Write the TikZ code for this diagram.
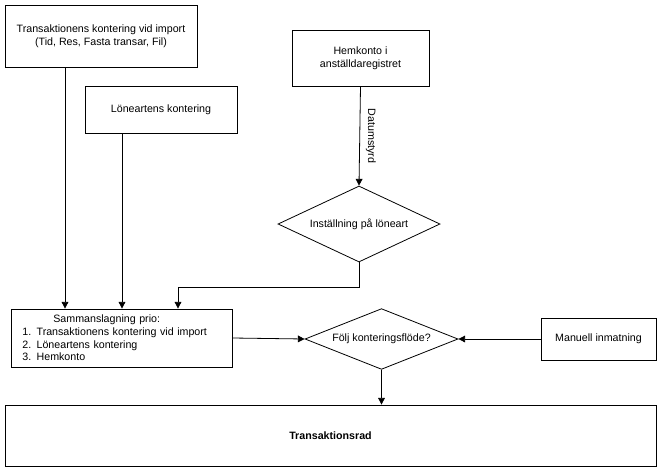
\documentclass[tikz,border=0pt]{standalone}
\usepackage{fontspec}
\setmainfont{Liberation Sans}
\usetikzlibrary{shapes.geometric,arrows.meta,positioning}
\tikzset{
    boxsty/.style={draw,rectangle,align=center,font=\fontsize{8}{9.5}\selectfont},
    dmsty/.style={draw,diamond,aspect=2.1,inner sep=1pt,align=center,font=\fontsize{8}{9.5}\selectfont},
    arsty/.style={-{Triangle[length=5pt,width=5pt]}},
}
\begin{document}
\begin{tikzpicture}[x=0.75pt,y=-0.75pt,line width=0.6pt]
\useasboundingbox (0,0) rectangle (670,475);
\node[boxsty,minimum width=192*0.75pt,minimum height=62*0.75pt] (imp) at (101,36) {Transaktionens kontering vid import\\(Tid, Res, Fasta transar, Fil)};
\node[boxsty,minimum width=152*0.75pt,minimum height=47*0.75pt] (lon) at (161,109.5) {Löneartens kontering};
\node[boxsty,minimum width=137*0.75pt,minimum height=56*0.75pt] (hem) at (360.5,58) {Hemkonto i\\anställdaregistret};
\node[dmsty,minimum width=162*0.75pt,minimum height=76*0.75pt] (inst) at (359,224) {Inställning på löneart};
\node[boxsty,align=left,text width=212*0.75pt,minimum height=58*0.75pt] (sam) at (122,338) {\hspace*{3.5em}Sammanslagning prio:\\\hspace*{0.6em}1. Transaktionens kontering vid import\\\hspace*{0.6em}2. Löneartens kontering\\\hspace*{0.6em}3. Hemkonto};
\node[dmsty,minimum width=153*0.75pt,minimum height=58*0.75pt] (folj) at (381.5,339) {Följ konteringsflöde?};
\node[boxsty,minimum width=115*0.75pt,minimum height=42*0.75pt] (man) at (598.5,339) {Manuell inmatning};
\node[boxsty,minimum width=651*0.75pt,minimum height=61*0.75pt,font=\fontsize{8}{9.5}\selectfont\bfseries] (rad) at (330.5,435.5) {Transaktionsrad};
\coordinate (knee) at (359,287);
\draw[arsty] (imp.south -| 65,0) -- (sam.north -| 65,0);
\draw[arsty] (lon.south -| 122,0) -- (sam.north -| 122,0);
\draw[arsty] (hem.south) -- node[rotate=-90,anchor=south,yshift=1pt,font=\fontsize{8}{9.5}\selectfont]{Datumstyrd} (inst.north);
\draw[arsty] (inst.south) -- (knee) -| (sam.north -| 178,0);
\draw[arsty] (sam.east) -- (folj.west);
\draw[arsty] (man.west) -- (folj.east);
\draw[arsty] (folj.south) -- (rad.north -| folj.south);
\end{tikzpicture}
\end{document}
